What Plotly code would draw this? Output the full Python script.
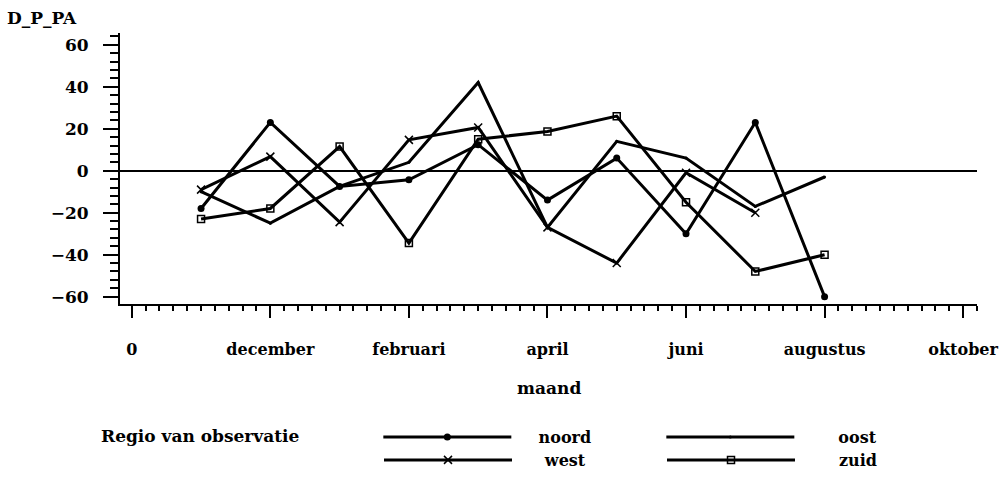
import plotly.graph_objects as go

# Monthly index: 0 = oktober, 2 = december, ... 12 = oktober
months = [1, 2, 3, 4, 5, 6, 7, 8, 9, 10]
months_west = [1, 2, 3, 4, 5, 6, 7, 8, 9]

noord = [-18, 23, -7.5, -4.3, 12.4, -14, 6, -30, 23, -60]
oost = [-10, -25, -7.5, 4, 42, -27, 14, 6, -17, -3]
west = [-9, 6.7, -24.5, 14.7, 20.6, -27, -44, -1, -20]
zuid = [-23, -18, 11.5, -34.5, 15, 18.7, 26, -15, -48, -40]

tick_vals = [0, 2, 4, 6, 8, 10, 12]
tick_text = ["0", "december", "februari", "april", "juni", "augustus", "oktober"]
y_ticks = [-60, -40, -20, 0, 20, 40, 60]

W, H = 1002, 477
FONT = "DejaVu Serif"
LINE_W = 3


def pad(n):
    return "\u00a0" * n


fig = go.Figure()

# Legend row 1: noord, oost; row 2: west, zuid
fig.add_trace(go.Scatter(
    x=months, y=noord, name=pad(4) + "noord", mode="lines+markers", legend="legend",
    line=dict(color="black", width=LINE_W),
    marker=dict(symbol="circle", size=7, color="black")))
fig.add_trace(go.Scatter(
    x=months, y=oost, name=pad(7) + "oost", mode="lines+markers", legend="legend",
    line=dict(color="black", width=LINE_W),
    marker=dict(symbol="circle", size=3, color="black")))
fig.add_trace(go.Scatter(
    x=months_west, y=west, name=pad(5) + "west", mode="lines+markers", legend="legend2",
    line=dict(color="black", width=LINE_W),
    marker=dict(symbol="x-thin-open", size=8, color="black",
                line=dict(color="black", width=1.5))))
fig.add_trace(go.Scatter(
    x=months, y=zuid, name=pad(7) + "zuid", mode="lines+markers", legend="legend2",
    line=dict(color="black", width=LINE_W),
    marker=dict(symbol="square-open", size=7, color="black",
                line=dict(color="black", width=1.5))))

bold = dict(family=FONT, size=17, color="black", weight="bold")
tick_bold = dict(family=FONT, size=16, color="black", weight="bold")

legend_common = dict(
    orientation="h", xref="paper", yref="paper", xanchor="left", yanchor="top",
    font=tick_bold, itemwidth=128, entrywidth=140,
    traceorder="normal", bgcolor="rgba(0,0,0,0)",
)

fig.update_layout(
    width=W, height=H,
    margin=dict(l=0, r=0, t=0, b=0, autoexpand=False),
    plot_bgcolor="white", paper_bgcolor="white",
    font=bold,
    showlegend=True,
    legend=dict(
        x=99 / W, y=1 - 420 / H,
        title=dict(text="Regio van observatie" + pad(12), side="left", font=bold),
        **legend_common,
    ),
    legend2=dict(
        x=379 / W, y=1 - 443 / H,
        **legend_common,
    ),
    xaxis=dict(
        domain=[120 / W, 977 / W], range=[-0.17, 12.2],
        showline=True, linecolor="black", linewidth=2,
        showgrid=False, zeroline=False,
        tickmode="array", tickvals=tick_vals, ticktext=tick_text,
        ticks="outside", ticklen=12, tickwidth=2, tickcolor="black",
        minor=dict(dtick=0.2, tick0=0, ticks="outside", ticklen=5,
                   tickwidth=1.5, tickcolor="black", showgrid=False),
        ticklabelstandoff=18, tickfont=tick_bold,
    ),
    yaxis=dict(
        domain=[1 - 304 / H, 1 - 33 / H], range=[-63.5, 65.6],
        showline=True, linecolor="black", linewidth=2,
        showgrid=False, zeroline=True, zerolinecolor="black", zerolinewidth=1.5,
        tickmode="array", tickvals=y_ticks,
        ticks="outside", ticklen=15, tickwidth=2, tickcolor="black",
        minor=dict(dtick=4, tick0=0, ticks="outside", ticklen=8,
                   tickwidth=1.5, tickcolor="black", showgrid=False),
        ticklabelstandoff=11, tickfont=bold,
    ),
    annotations=[
        dict(text="D_P_PA", x=5 / W, y=1 - 18 / H, xref="paper", yref="paper",
             xanchor="left", yanchor="middle", showarrow=False, font=bold),
        dict(text="maand", x=548.5 / W, y=1 - 388 / H, xref="paper", yref="paper",
             xanchor="center", yanchor="middle", showarrow=False, font=bold),
    ],
)

fig.write_html("out.html")
